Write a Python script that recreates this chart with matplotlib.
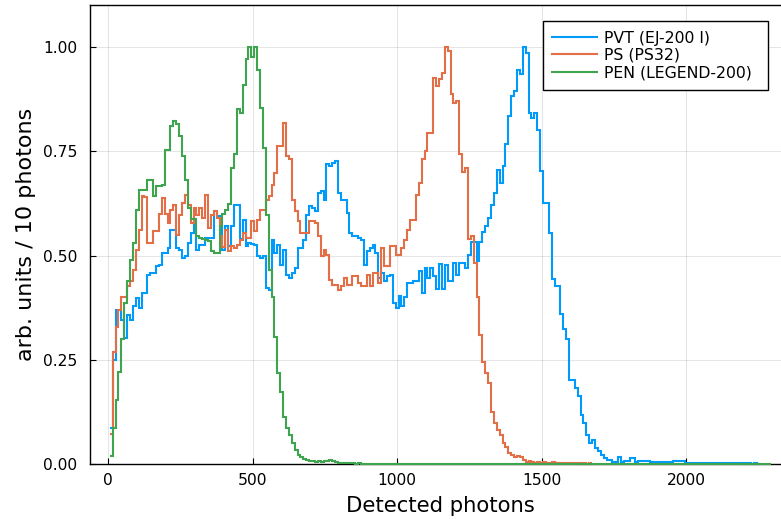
#!/usr/bin/env python3
# -*- coding: utf-8 -*-
import numpy as np
import matplotlib
matplotlib.use("Agg")
import matplotlib.pyplot as plt

# ---------- data ----------
# histograms of detected photons, 10-photon bins, first bin edge at 5
BIN_START = 5
BIN_WIDTH = 10

LABELS = ["PVT (EJ-200 I)", "PS (PS32)", "PEN (LEGEND-200)"]
COLORS = ["#009AFA", "#E36F47", "#3EA44E"]

pvt = [
    0.086, 0.25, 0.37, 0.37, 0.346, 0.302, 0.358, 0.346, 0.378, 0.398,      # 10-100
    0.374, 0.41, 0.41, 0.454, 0.458, 0.458, 0.474, 0.478, 0.506, 0.506,     # 110-200
    0.518, 0.562, 0.562, 0.518, 0.514, 0.494, 0.50, 0.53, 0.554, 0.582,     # 210-300
    0.514, 0.526, 0.526, 0.542, 0.542, 0.542, 0.606, 0.594, 0.57, 0.514,    # 310-400
    0.57, 0.522, 0.57, 0.622, 0.622, 0.54, 0.586, 0.522, 0.53, 0.528,       # 410-500
    0.525, 0.50, 0.494, 0.498, 0.422, 0.418, 0.538, 0.506, 0.526, 0.478,    # 510-600
    0.514, 0.454, 0.446, 0.458, 0.47, 0.518, 0.518, 0.538, 0.598, 0.618,    # 610-700
    0.614, 0.606, 0.65, 0.654, 0.634, 0.718, 0.714, 0.722, 0.726, 0.65,     # 710-800
    0.634, 0.634, 0.602, 0.554, 0.546, 0.546, 0.542, 0.538, 0.478, 0.51,    # 810-900
    0.518, 0.526, 0.506, 0.446, 0.458, 0.438, 0.45, 0.454, 0.386, 0.374,    # 910-1000
    0.402, 0.38, 0.40, 0.434, 0.434, 0.438, 0.438, 0.462, 0.41, 0.47,       # 1010-1100
    0.446, 0.47, 0.45, 0.42, 0.48, 0.42, 0.478, 0.438, 0.438, 0.482,        # 1110-1200
    0.454, 0.482, 0.482, 0.47, 0.502, 0.533, 0.533, 0.486, 0.533, 0.557,    # 1210-1300
    0.57, 0.59, 0.622, 0.65, 0.706, 0.674, 0.714, 0.766, 0.834, 0.882,      # 1310-1400
    0.893, 0.945, 0.934, 1.0, 0.986, 0.842, 0.83, 0.842, 0.801, 0.702,      # 1410-1500
    0.626, 0.626, 0.554, 0.443, 0.427, 0.427, 0.359, 0.323, 0.299, 0.203,   # 1510-1600
    0.203, 0.183, 0.163, 0.119, 0.099, 0.071, 0.051, 0.059, 0.039, 0.031,   # 1610-1700
    0.023, 0.015, 0.010, 0.010, 0.006, 0.006, 0.017, 0.006, 0.007, 0.008,   # 1710-1800
    0.016, 0.016, 0.006, 0.008, 0.008, 0.008, 0.008, 0.005, 0.005, 0.005,   # 1810-1900
    0.005, 0.005, 0.005, 0.005, 0.005, 0.008, 0.008, 0.008, 0.008, 0.004,   # 1910-2000
    0.004, 0.004, 0.004, 0.004, 0.004, 0.004, 0.004, 0.004, 0.004, 0.003,   # 2010-2100
    0.003, 0.003, 0.002, 0.003, 0.003, 0.002, 0.002, 0.003, 0.002, 0.002,   # 2110-2200
    0.002, 0.002, 0.001, 0.002, 0.001,                                      # 2210-2250
]

ps = [
    0.073, 0.27, 0.33, 0.37, 0.40, 0.40, 0.426, 0.438, 0.466, 0.514,        # 10-100
    0.562, 0.642, 0.64, 0.53, 0.53, 0.558, 0.558, 0.60, 0.638, 0.60,        # 110-200
    0.578, 0.61, 0.622, 0.55, 0.598, 0.626, 0.646, 0.622, 0.578, 0.614,     # 210-300
    0.598, 0.614, 0.59, 0.646, 0.566, 0.598, 0.606, 0.59, 0.546, 0.52,      # 310-400
    0.562, 0.51, 0.522, 0.518, 0.526, 0.538, 0.554, 0.542, 0.542, 0.582,    # 410-500
    0.558, 0.586, 0.61, 0.61, 0.634, 0.642, 0.67, 0.698, 0.762, 0.762,      # 510-600
    0.818, 0.738, 0.73, 0.634, 0.606, 0.582, 0.554, 0.554, 0.554, 0.582,    # 610-700
    0.582, 0.578, 0.546, 0.498, 0.514, 0.502, 0.442, 0.43, 0.43, 0.418,     # 710-800
    0.426, 0.446, 0.43, 0.43, 0.45, 0.45, 0.434, 0.426, 0.426, 0.454,       # 810-900
    0.426, 0.458, 0.458, 0.434, 0.518, 0.474, 0.474, 0.522, 0.522, 0.502,   # 910-1000
    0.502, 0.518, 0.538, 0.562, 0.586, 0.586, 0.646, 0.674, 0.731, 0.75,    # 1010-1100
    0.794, 0.794, 0.926, 0.907, 0.922, 0.936, 1.0, 0.99, 0.886, 0.866,      # 1110-1200
    0.87, 0.742, 0.699, 0.71, 0.54, 0.546, 0.482, 0.40, 0.31, 0.246,        # 1210-1300
    0.218, 0.194, 0.126, 0.098, 0.082, 0.07, 0.05, 0.042, 0.028, 0.022,     # 1310-1400
    0.017, 0.02, 0.018, 0.01, 0.006, 0.008, 0.005, 0.004, 0.006, 0.003,     # 1410-1500
    0.005, 0.004, 0.004, 0.006, 0.003, 0.004, 0.002, 0.004, 0.003, 0.002,   # 1510-1600
    0.003, 0.002, 0.002, 0.001, 0.003, 0.001, 0.002,                        # 1610-1670
]

pen = [
    0.02, 0.086, 0.154, 0.22, 0.30, 0.386, 0.44, 0.49, 0.53, 0.61,          # 10-100
    0.658, 0.656, 0.656, 0.682, 0.682, 0.642, 0.666, 0.666, 0.67, 0.752,    # 110-200
    0.752, 0.811, 0.822, 0.814, 0.786, 0.738, 0.682, 0.614, 0.588, 0.588,   # 210-300
    0.546, 0.542, 0.54, 0.538, 0.535, 0.51, 0.506, 0.506, 0.57, 0.60,       # 310-400
    0.61, 0.624, 0.71, 0.742, 0.85, 0.842, 0.909, 0.971, 1.0, 0.975,        # 410-500
    1.0, 0.944, 0.854, 0.758, 0.598, 0.466, 0.40, 0.306, 0.218, 0.174,      # 510-600
    0.114, 0.086, 0.07, 0.05, 0.034, 0.022, 0.017, 0.012, 0.01, 0.008,      # 610-700
    0.007, 0.006, 0.007, 0.006, 0.007, 0.007, 0.01, 0.009, 0.005, 0.004,   # 710-800
    0.003, 0.002, 0.002, 0.002, 0.002, 0.001, 0.002, 0.001, 0.001, 0.001,   # 810-900
    0.001, 0.001, 0.001, 0.001, 0.001, 0.001, 0.001, 0.001, 0.001, 0.001,   # 910-1000
    0.001, 0.001, 0.001, 0.001, 0.001, 0.001, 0.001, 0.001, 0.001, 0.001,   # 1010-1100
    0.001, 0.001, 0.001, 0.001, 0.001, 0.001, 0.001, 0.001, 0.001, 0.001,   # 1110-1200
    0.001, 0.001, 0.001, 0.001, 0.001, 0.001, 0.001, 0.001, 0.001, 0.001,   # 1210-1300
    0.001, 0.001, 0.001, 0.001, 0.001, 0.001, 0.001, 0.001, 0.001, 0.001,   # 1310-1400
    0.001, 0.001, 0.001, 0.001, 0.001, 0.001, 0.001, 0.001, 0.001, 0.001,   # 1410-1500
    0.001, 0.001, 0.001, 0.001, 0.001, 0.001, 0.001, 0.001, 0.001, 0.001,   # 1510-1600
    0.001, 0.001, 0.001, 0.001, 0.001, 0.001, 0.001, 0.001, 0.001, 0.001,   # 1610-1700
    0.001, 0.001, 0.001, 0.001, 0.001, 0.001, 0.001, 0.001, 0.001, 0.001,   # 1710-1800
    0.001, 0.001, 0.001, 0.001, 0.001, 0.001, 0.001, 0.001, 0.001, 0.001,   # 1810-1900
    0.001, 0.001, 0.001, 0.001, 0.001, 0.001, 0.001, 0.001, 0.001, 0.001,   # 1910-2000
    0.001, 0.001, 0.001, 0.001, 0.001, 0.001, 0.001, 0.001, 0.001, 0.001,   # 2010-2100
    0.001, 0.001, 0.001, 0.001, 0.001, 0.001, 0.001, 0.001, 0.001, 0.001,   # 2110-2200
    0.001, 0.001, 0.001, 0.001, 0.001, 0.001, 0.001, 0.001, 0.001,          # 2210-2290
]

XTICKS = [0, 500, 1000, 1500, 2000]
YTICKS = [0.0, 0.25, 0.5, 0.75, 1.0]


def edges_for(vals):
    return BIN_START + BIN_WIDTH * np.arange(len(vals) + 1)


def main():
    fig = plt.figure(figsize=(7.81, 5.19), dpi=100)
    # axes run a bit past the right edge of the picture, like the original
    ax = fig.add_axes([0.1152, 0.1054, 0.8976, 0.885])

    for vals, lab, col in zip([pvt, ps, pen], LABELS, COLORS):
        # no clipping, so the near-zero tails stay visible over the bottom spine
        ax.stairs(vals, edges_for(vals), baseline=None, color=col, lw=1.5,
                  label=lab, zorder=3, clip_on=False)

    ax.set_xlim(-63.5, 2363.5)
    ax.set_ylim(0, 1.1)
    ax.set_xticks(XTICKS)
    ax.set_yticks(YTICKS)
    ax.set_yticklabels([f"{v:.2f}" for v in YTICKS])
    ax.tick_params(direction="in", length=4, width=0.8, labelsize=11.2, colors="black")
    ax.tick_params(axis="x", pad=6)
    ax.tick_params(axis="y", pad=9)
    ax.grid(True, color="black", alpha=0.1, lw=0.8)
    ax.set_axisbelow(True)
    for s in ax.spines.values():
        s.set_linewidth(1.0)

    ax.set_xlabel("Detected photons", fontsize=15.2)
    ax.set_ylabel("arb. units / 10 photons", fontsize=16)
    ax.xaxis.set_label_coords(0.5, -0.069)
    ax.yaxis.set_label_coords(-0.077, 0.5)

    # legend box sized to the original one
    leg = ax.legend(loc="upper left", bbox_to_anchor=(0.646, 0.8165, 0.321, 0.1485),
                    mode="expand", borderaxespad=0,
                    fontsize=11.35, handlelength=2.85, handletextpad=0.46,
                    labelspacing=0.15, borderpad=0.6,
                    fancybox=False, framealpha=1.0, edgecolor="black")
    leg.get_frame().set_linewidth(1.0)

    fig.savefig("out.png", dpi=100)
    plt.close(fig)


if __name__ == "__main__":
    main()
